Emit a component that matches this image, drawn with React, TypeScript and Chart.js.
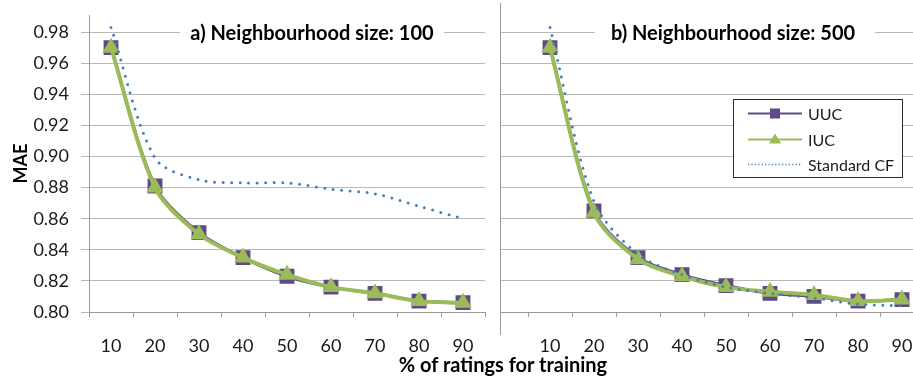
import React, { useEffect, useRef } from "react";
import { Chart, registerables } from "chart.js";

Chart.register(...registerables);

// ---------- data ----------
const categories = ["10", "20", "30", "40", "50", "60", "70", "80", "90"];
const seriesNames = ["UUC", "IUC", "Standard CF"];

// panel a) neighbourhood size 100
const uucA = [0.970, 0.881, 0.851, 0.835, 0.823, 0.816, 0.812, 0.807, 0.806];
const iucA = [0.970, 0.880, 0.850, 0.835, 0.824, 0.816, 0.812, 0.807, 0.806];
const cfA = [0.983, 0.899, 0.885, 0.883, 0.883, 0.879, 0.876, 0.868, 0.860];

// panel b) neighbourhood size 500
const uucB = [0.970, 0.865, 0.835, 0.824, 0.817, 0.812, 0.810, 0.807, 0.808];
const iucB = [0.970, 0.864, 0.834, 0.823, 0.816, 0.813, 0.811, 0.807, 0.808];
const cfB = [0.983, 0.871, 0.837, 0.824, 0.816, 0.812, 0.809, 0.805, 0.804];

const yTicks = [0.8, 0.82, 0.84, 0.86, 0.88, 0.9, 0.92, 0.94, 0.96, 0.98];
const yMin = 0.8;
const yMax = 0.991;

const panelTitles = ["a) Neighbourhood size: 100", "b) Neighbourhood size: 500"];
const xTitle = "% of ratings for training";
const yTitle = "MAE";

// ---------- styles ----------
const PURPLE = "#5f4a87";
const GREEN = "#9bbb59";
const BLUE = "#4a7ebb";
const GRID = "#b8b8b8";
const AXIS = "#9a9a9a";
const FONT = "Lato";

const titlePlugin = {
  id: "panelTitle",
  beforeDatasetsDraw(chart: any, _args: any, opts: any) {
    if (!opts || !opts.text) return;
    const ctx = chart.ctx;
    ctx.save();
    ctx.font = `bold 20px ${FONT}`;
    const w = ctx.measureText(opts.text).width;
    const cx = chart.chartArea.left + opts.dx;
    const cy = chart.scales.y.getPixelForValue(yTicks[yTicks.length - 1]);
    ctx.fillStyle = "#ffffff";
    ctx.fillRect(cx - w / 2 - opts.padL, cy - 13, w + opts.padL + opts.padR, 26);
    ctx.fillStyle = "#000000";
    ctx.textAlign = "center";
    ctx.textBaseline = "middle";
    ctx.fillText(opts.text, cx, cy + 1);
    ctx.restore();
  },
};

const legendPlugin = {
  id: "boxLegend",
  afterDraw(chart: any, _args: any, opts: any) {
    if (!opts || !opts.display) return;
    const ctx = chart.ctx;
    const { x, y, w, h, firstRow, rowH } = opts;
    ctx.save();
    ctx.fillStyle = "#ffffff";
    ctx.fillRect(x, y, w, h);
    ctx.strokeStyle = "#2a2a2a";
    ctx.lineWidth = 1;
    ctx.strokeRect(x + 0.5, y + 0.5, w, h);
    chart.data.datasets.forEach((ds: any, i: number) => {
      const cy = Math.round(y + firstRow + i * rowH) + 0.5;
      const x0 = x + 15;
      const x1 = x + 69;
      const mx = (x0 + x1) / 2;
      ctx.strokeStyle = ds.borderColor;
      if (i === 2) {
        ctx.lineWidth = 1.5;
        ctx.setLineDash([1.2, 2.2]);
      } else {
        ctx.lineWidth = 2;
        ctx.setLineDash([]);
      }
      ctx.beginPath();
      ctx.moveTo(x0, cy);
      ctx.lineTo(x1, cy);
      ctx.stroke();
      ctx.setLineDash([]);
      ctx.fillStyle = ds.borderColor;
      if (ds.pointStyle === "rect") {
        ctx.fillRect(mx - 5, cy - 5, 10, 10);
      } else if (ds.pointStyle === "triangle") {
        ctx.beginPath();
        ctx.moveTo(mx, cy - 6);
        ctx.lineTo(mx + 6, cy + 4);
        ctx.lineTo(mx - 6, cy + 4);
        ctx.closePath();
        ctx.fill();
      }
      ctx.fillStyle = "#1a1a1a";
      ctx.font = `16px ${FONT}`;
      ctx.textAlign = "left";
      ctx.textBaseline = "middle";
      ctx.fillText(ds.label, x + 75, cy + 1);
    });
    ctx.restore();
  },
};

function makeDatasets(uuc: (number | null)[], iuc: (number | null)[], cf: (number | null)[]) {
  return [
    {
      label: seriesNames[0],
      data: uuc,
      borderColor: PURPLE,
      backgroundColor: PURPLE,
      borderWidth: 3,
      pointStyle: "rect",
      pointRadius: 10.5,
      pointBorderWidth: 0,
      pointBackgroundColor: PURPLE,
      tension: 0.3,
      order: 2,
    },
    {
      label: seriesNames[1],
      data: iuc,
      borderColor: GREEN,
      backgroundColor: GREEN,
      borderWidth: 4,
      pointStyle: "triangle",
      pointRadius: 10,
      pointBorderWidth: 0,
      pointBackgroundColor: GREEN,
      tension: 0.3,
      order: 1,
    },
    {
      label: seriesNames[2],
      data: cf,
      borderColor: BLUE,
      backgroundColor: BLUE,
      borderWidth: 3,
      borderDash: [0, 8.5],
      borderCapStyle: "round",
      pointRadius: 0,
      tension: 0.3,
      order: 0,
    },
  ];
}

function zeroPadding(scale: any) {
  scale.paddingLeft = 0;
  scale.paddingRight = 0;
  scale.paddingTop = 0;
  scale.paddingBottom = 0;
}

function yScale(showLabels: boolean) {
  return {
    type: "linear",
    min: yMin,
    max: yMax,
    afterBuildTicks: (scale: any) => {
      scale.ticks = yTicks.map((v) => ({ value: v }));
    },
    afterFit: (scale: any) => {
      scale.width = showLabels ? 89 : 0;
      zeroPadding(scale);
    },
    border: { display: showLabels, color: AXIS, width: 1 },
    grid: {
      color: GRID,
      lineWidth: 1,
      drawTicks: showLabels,
      tickLength: 8,
      tickColor: GRID,
    },
    ticks: {
      display: showLabels,
      padding: 12,
      color: "#1a1a1a",
      font: { family: FONT, size: 18 },
      callback: (v: any) => Number(v).toFixed(2),
    },
    title: {
      display: showLabels,
      text: yTitle,
      color: "#000",
      font: { family: FONT, size: 18, weight: "bold" },
      padding: { top: 10, bottom: 0 },
    },
  };
}

function xScale() {
  return {
    type: "category",
    offset: true,
    afterFit: (scale: any) => {
      scale.height = 64;
      zeroPadding(scale);
    },
    border: { display: true, color: AXIS, width: 1 },
    grid: {
      offset: true,
      drawOnChartArea: false,
      drawTicks: true,
      tickLength: 5,
      tickColor: AXIS,
    },
    ticks: {
      padding: 18,
      maxRotation: 0,
      autoSkip: false,
      color: "#1a1a1a",
      font: { family: FONT, size: 18 },
    },
  };
}

export default function App() {
  const leftRef = useRef<HTMLCanvasElement | null>(null);
  const rightRef = useRef<HTMLCanvasElement | null>(null);

  useEffect(() => {
    const left = new Chart(leftRef.current as HTMLCanvasElement, {
      type: "line",
      data: {
        labels: categories,
        datasets: makeDatasets(uucA, iucA, cfA) as any,
      },
      plugins: [titlePlugin],
      options: {
        responsive: false,
        animation: false,
        layout: { autoPadding: false, padding: { top: 15, right: 7, left: 0, bottom: 0 } },
        scales: { x: xScale(), y: yScale(true) } as any,
        elements: { line: { fill: false } },
        plugins: {
          legend: { display: false },
          tooltip: { enabled: false },
          panelTitle: { text: panelTitles[0], dx: 223, padL: 10, padR: 10 },
        } as any,
      },
    });

    const right = new Chart(rightRef.current as HTMLCanvasElement, {
      type: "line",
      data: {
        labels: ["", ...categories],
        datasets: makeDatasets([null, ...uucB], [null, ...iucB], [null, ...cfB]) as any,
      },
      plugins: [titlePlugin, legendPlugin],
      options: {
        responsive: false,
        animation: false,
        layout: { autoPadding: false, padding: { top: 15, right: 0, left: 0, bottom: 0 } },
        scales: { x: xScale(), y: yScale(false) } as any,
        elements: { line: { fill: false } },
        plugins: {
          legend: { display: false },
          tooltip: { enabled: false },
          panelTitle: { text: panelTitles[1], dx: 249, padL: 16, padR: 20 },
          boxLegend: { display: true, x: 249, y: 99, w: 169, h: 78, firstRow: 14, rowH: 25.5 },
        } as any,
      },
    });

    return () => {
      left.destroy();
      right.destroy();
    };
  }, []);

  return (
    <div
      style={{
        position: "absolute",
        left: 0,
        top: 0,
        width: 913,
        height: 376,
        overflow: "hidden",
        background: "#ffffff",
      }}
    >
      <canvas
        ref={leftRef}
        width={492}
        height={376}
        style={{ position: "absolute", left: 0, top: 0, width: 492, height: 376 }}
      />
      <div
        style={{
          position: "absolute",
          left: 500,
          top: 0,
          width: 413,
          height: 376,
          overflow: "hidden",
        }}
      >
        <canvas
          ref={rightRef}
          width={440}
          height={376}
          style={{ position: "absolute", left: -16, top: 0, width: 440, height: 376 }}
        />
      </div>
      <div
        style={{
          position: "absolute",
          left: 500,
          top: 3,
          width: 1,
          height: 332,
          background: AXIS,
        }}
      />
      <div
        style={{
          position: "absolute",
          left: 503,
          top: 353,
          transform: "translateX(-50%)",
          whiteSpace: "nowrap",
          fontFamily: FONT,
          fontWeight: "bold",
          fontSize: 20,
          lineHeight: "22px",
          color: "#000",
        }}
      >
        {xTitle}
      </div>
    </div>
  );
}
